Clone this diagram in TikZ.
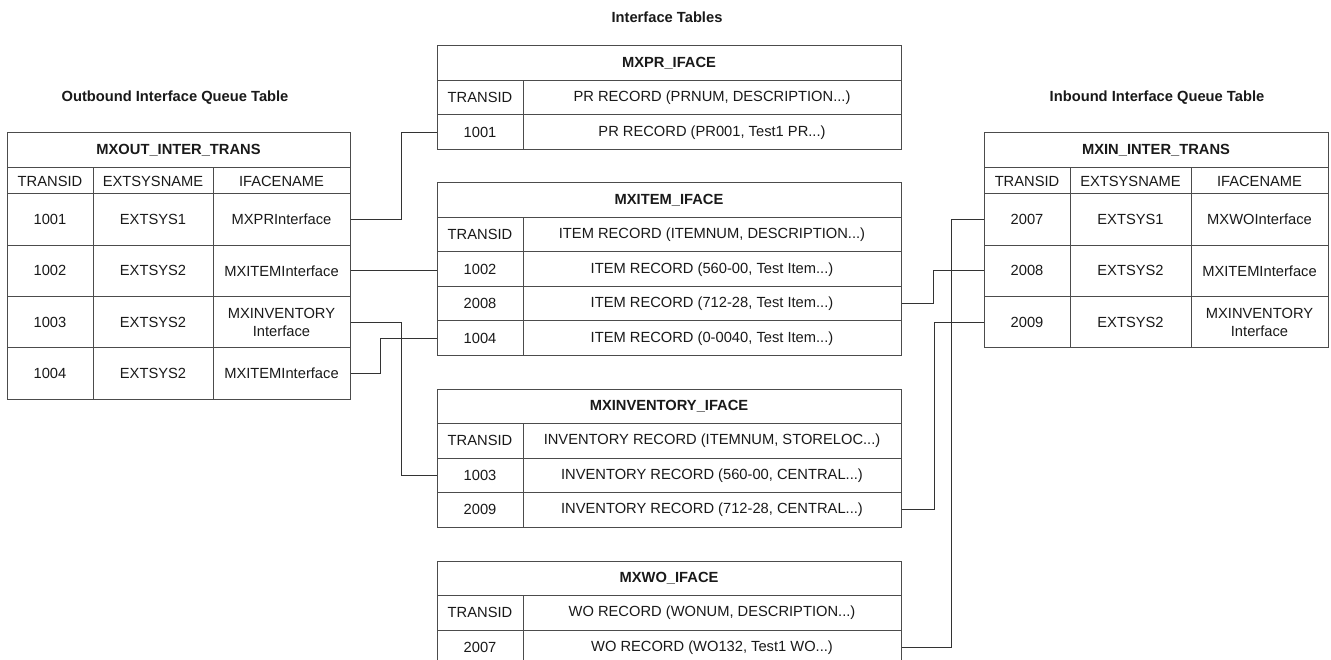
\documentclass[tikz,border=0pt]{standalone}
\usepackage{fontspec}
\setmainfont{Liberation Sans}

\begin{document}
\begin{tikzpicture}[
        x=1pt,   % 1 px of the sheet = 1pt
        y=-1pt,  % rows counted downward
        cell/.style={draw=black!70, line width=1pt, inner sep=0pt, align=center,
            font=\fontsize{14.7}{18}\selectfont, text=black!90},
        titlecell/.style={cell, font=\fontsize{14.7}{18}\selectfont\bfseries},
        idcol/.style={cell, minimum width=86, minimum height=34.5},
        reccol/.style={cell, minimum width=378, minimum height=34.5},
        heading/.style={font=\fontsize{14.7}{18}\selectfont\bfseries, text=black!90},
        link/.style={draw=black!80, line width=1pt},
    ]

    \useasboundingbox (0,0) rectangle (1331,660);

    % Headings
    \node[heading] (hd-mid) at (667,17) {Interface Tables};
    \node[heading] (hd-out) at (175,98) {Outbound Interface Queue Table};
    \node[heading] (hd-in) at (1157,98) {Inbound Interface Queue Table};

    % Outbound queue table
    \node[titlecell, minimum width=343, minimum height=35] (out-title) at (178.5,150.5) {MXOUT\_INTER\_TRANS};
    \node[cell, minimum width=86, minimum height=26] (out0-id) at (50,181) {TRANSID};
    \node[cell, minimum width=120, minimum height=26] (out0-sys) at (153,181) {EXTSYSNAME};
    \node[cell, minimum width=137, minimum height=26] (out0-if) at (281.5,181) {IFACENAME};
    \foreach \id/\sys/\iface [count=\i] in {1001/EXTSYS1/MXPRInterface, 1002/EXTSYS2/MXITEMInterface,
            1003/EXTSYS2/{MXINVENTORY\\Interface}, 1004/EXTSYS2/MXITEMInterface} {
        \pgfmathsetmacro{\yc}{194+51.25*(\i-0.5)}
        \node[cell, minimum width=86, minimum height=51.25] (out\i-id) at (50,\yc) {\id};
        \node[cell, minimum width=120, minimum height=51.25] (out\i-sys) at (153,\yc) {\sys};
        \node[cell, minimum width=137, minimum height=51.25] (out\i-if) at (281.5,\yc) {\iface};
    }

    % Inbound queue table
    \node[titlecell, minimum width=344, minimum height=35] (in-title) at (1156,150.5) {MXIN\_INTER\_TRANS};
    \node[cell, minimum width=86, minimum height=26] (in0-id) at (1027,181) {TRANSID};
    \node[cell, minimum width=121, minimum height=26] (in0-sys) at (1130.5,181) {EXTSYSNAME};
    \node[cell, minimum width=137, minimum height=26] (in0-if) at (1259.5,181) {IFACENAME};
    \foreach \id/\sys/\iface [count=\i] in {2007/EXTSYS1/MXWOInterface, 2008/EXTSYS2/MXITEMInterface,
            2009/EXTSYS2/{MXINVENTORY\\Interface}} {
        \pgfmathsetmacro{\yc}{194+51.25*(\i-0.5)}
        \node[cell, minimum width=86, minimum height=51.25] (in\i-id) at (1027,\yc) {\id};
        \node[cell, minimum width=121, minimum height=51.25] (in\i-sys) at (1130.5,\yc) {\sys};
        \node[cell, minimum width=137, minimum height=51.25] (in\i-if) at (1259.5,\yc) {\iface};
    }

    % MXPR_IFACE
    \node[titlecell, minimum width=464, minimum height=34.5] (pr-title) at (669,63.25) {MXPR\_IFACE};
    \foreach \id/\rec [count=\i from 0] in {TRANSID/{PR RECORD (PRNUM, DESCRIPTION...)},
            1001/{PR RECORD (PR001, Test1 PR...)}} {
        \pgfmathsetmacro{\yc}{46+34.5*(\i+1.5)}
        \node[idcol] (pr\i-id) at (480,\yc) {\id};
        \node[reccol] (pr\i-rec) at (712,\yc) {\rec};
    }

    % MXITEM_IFACE
    \node[titlecell, minimum width=464, minimum height=34.5] (it-title) at (669,200.25) {MXITEM\_IFACE};
    \foreach \id/\rec [count=\i from 0] in {TRANSID/{ITEM RECORD (ITEMNUM, DESCRIPTION...)},
            1002/{ITEM RECORD (560-00, Test Item...)}, 2008/{ITEM RECORD (712-28, Test Item...)},
            1004/{ITEM RECORD (0-0040, Test Item...)}} {
        \pgfmathsetmacro{\yc}{183+34.5*(\i+1.5)}
        \node[idcol] (it\i-id) at (480,\yc) {\id};
        \node[reccol] (it\i-rec) at (712,\yc) {\rec};
    }

    % MXINVENTORY_IFACE
    \node[titlecell, minimum width=464, minimum height=34.5] (inv-title) at (669,406.25) {MXINVENTORY\_IFACE};
    \foreach \id/\rec [count=\i from 0] in {TRANSID/{INVENTORY RECORD (ITEMNUM, STORELOC...)},
            1003/{INVENTORY RECORD (560-00, CENTRAL...)}, 2009/{INVENTORY RECORD (712-28, CENTRAL...)}} {
        \pgfmathsetmacro{\yc}{389+34.5*(\i+1.5)}
        \node[idcol] (inv\i-id) at (480,\yc) {\id};
        \node[reccol] (inv\i-rec) at (712,\yc) {\rec};
    }

    % MXWO_IFACE (runs off the bottom edge)
    \node[titlecell, minimum width=464, minimum height=34.5] (wo-title) at (669,578.25) {MXWO\_IFACE};
    \foreach \id/\rec [count=\i from 0] in {TRANSID/{WO RECORD (WONUM, DESCRIPTION...)},
            2007/{WO RECORD (WO132, Test1 WO...)}} {
        \pgfmathsetmacro{\yc}{561+34.5*(\i+1.5)}
        \node[idcol] (wo\i-id) at (480,\yc) {\id};
        \node[reccol] (wo\i-rec) at (712,\yc) {\rec};
    }

    % Outbound rows -> interface tables
    \draw[link] (out1-if.east) -- ++(51,0) |- (pr1-id.west);
    \draw[link] (out2-if.east) -- (out2-if.east -| it1-id.west);
    \draw[link] (out3-if.east) -- ++(51,0) |- (inv1-id.west);
    \draw[link] (out4-if.east) -- ++(30,0) |- (it3-id.west);

    % Interface tables -> inbound rows
    \draw[link] (it2-rec.east) -- ++(32,0) |- (in2-id.west);
    \draw[link] (inv2-rec.east) -- ++(33,0) |- (in3-id.west);
    \draw[link] (wo1-rec.east) -- ++(50,0) |- (in1-id.west);

\end{tikzpicture}
\end{document}
